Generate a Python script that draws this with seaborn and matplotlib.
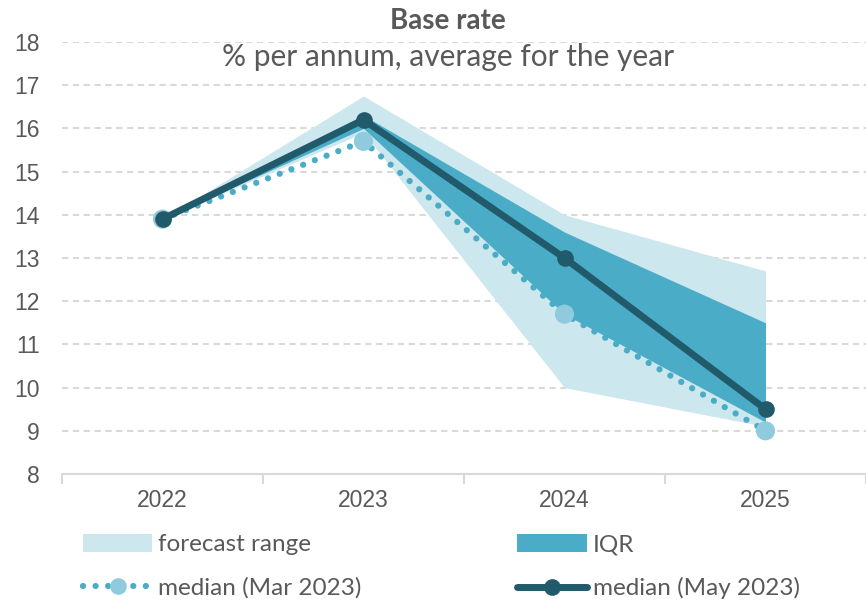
#%% IMPORTS
from matplotlib import pyplot as plt
from matplotlib.lines import Line2D
from matplotlib.patches import Patch
import pandas as pd
import seaborn as sns

#%% DATA
years = ["2022", "2023", "2024", "2025"]
median_may = [13.9, 16.2, 13.0, 9.5]
median_mar = [13.9, 15.7, 11.7, 9.0]
range_low = [13.9, 15.9, 10.0, 9.1]
range_high = [13.9, 16.75, 14.0, 12.7]
iqr_low = [13.9, 16.0, 11.7, 9.2]
iqr_high = [13.9, 16.3, 13.6, 11.5]

#%% STYLE
C_RANGE = "#cde7ee"
C_IQR = "#4aacc6"
C_MAY = "#215a6b"
C_MAR_DOT = "#4aacc6"
C_MAR_MK = "#8fcbdc"
C_TEXT = "#595959"
C_GRID = "#d9d9d9"

sns.set_theme(style="white")
plt.rcParams["font.family"] = ["Lato", "DejaVu Sans"]

df = pd.DataFrame({"pos": range(len(years)), "year": years,
                   "may": median_may, "mar": median_mar})

fig = plt.figure(figsize=(8.66, 6.01), dpi=100)
ax = fig.add_axes([62 / 866, 1 - 474 / 601, 1 - 62 / 866, (474 - 42) / 601])

# bands #
ax.fill_between(df["pos"], range_low, range_high, color=C_RANGE, lw=0, zorder=1)
ax.fill_between(df["pos"], iqr_low, iqr_high, color=C_IQR, lw=0, zorder=2)

# medians #
sns.lineplot(data=df, x="pos", y="mar", ax=ax, color=C_MAR_DOT, lw=4.5,
             dashes=False, zorder=3, legend=False)
ax.lines[-1].set_linestyle((0, (0.01, 2.0)))
ax.lines[-1].set_dash_capstyle("round")
sns.scatterplot(data=df, x="pos", y="mar", ax=ax, color=C_MAR_MK, s=190,
                edgecolor="none", zorder=4, legend=False)
sns.lineplot(data=df, x="pos", y="may", ax=ax, color=C_MAY, lw=5,
             marker="o", markersize=12, markeredgewidth=0, zorder=5,
             legend=False)

# axes #
ax.set_xlim(-0.5, 3.5)
ax.set_ylim(8, 18)
ax.set_yticks(range(8, 19))
ax.set_xticks(range(len(years)))
ax.set_xticklabels(years)
ax.set_xticks([-0.5, 0.5, 1.5, 2.5, 3.5], minor=True)
ax.set_xlabel("")
ax.set_ylabel("")
for s in ["top", "right", "left"]:
    ax.spines[s].set_visible(False)
ax.spines["bottom"].set_color(C_GRID)
ax.spines["bottom"].set_linewidth(1.5)
ax.tick_params(axis="x", which="major", length=0, pad=11)
ax.tick_params(axis="x", which="minor", length=7, width=1.5, color=C_GRID,
               direction="out", bottom=True)
ax.tick_params(axis="y", length=0, pad=16)
for lab in ax.get_xticklabels() + ax.get_yticklabels():
    lab.set_family(["Liberation Sans"])
    lab.set_fontsize(16.5)
    lab.set_color(C_TEXT)
for v in range(9, 19):
    ax.axhline(v, color=C_GRID, lw=1.5, dashes=(3, 2.2), zorder=0)

# titles #
fig.text(0.517, 1 - 21 / 601, "Base rate", ha="center", va="center",
         fontsize=20, fontweight="bold", color=C_TEXT)
fig.text(0.517, 1 - 57 / 601, "% per annum, average for the year",
         ha="center", va="center", fontsize=21.5, color=C_TEXT)

# legend #
handles = [
    Patch(facecolor=C_RANGE, edgecolor="none"),
    Line2D([], [], color=C_MAR_DOT, lw=4.5, linestyle=(0, (0.01, 2.0)),
           dash_capstyle="round", marker="o", markersize=12,
           markerfacecolor=C_MAR_MK, markeredgewidth=0),
    Patch(facecolor=C_IQR, edgecolor="none"),
    Line2D([], [], color=C_MAY, lw=5, marker="o", markersize=12,
           markeredgewidth=0),
]
labels = ["forecast range", "median (Mar 2023)", "IQR", "median (May 2023)"]
leg = fig.legend(handles, labels, ncol=2, loc="upper left",
                 bbox_to_anchor=(83 / 866, 1 - 534 / 601), frameon=False,
                 fontsize=17.5, handlelength=2.85, handleheight=0.75,
                 handletextpad=0.25, columnspacing=6.4, labelspacing=0.9,
                 borderaxespad=0, borderpad=0)
for t in leg.get_texts():
    t.set_color(C_TEXT)

fig.savefig("out.png", dpi=100)
